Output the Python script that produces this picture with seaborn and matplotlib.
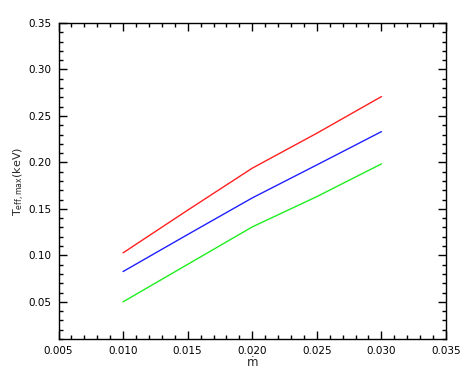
"""T_eff,max vs accretion rate, three model curves."""
import pandas as pd
import matplotlib
matplotlib.use("Agg")
import matplotlib.pyplot as plt
import seaborn as sns
from matplotlib.ticker import MultipleLocator

MDOT = [0.010, 0.015, 0.020, 0.025, 0.030]
T_RED = [0.1027, 0.1486, 0.1938, 0.2314, 0.2708]
T_BLUE = [0.0826, 0.1224, 0.1618, 0.1973, 0.2331]
T_GREEN = [0.0500, 0.0903, 0.1306, 0.1632, 0.1984]
SERIES = {"red": T_RED, "blue": T_BLUE, "green": T_GREEN}
COLORS = {"red": "#ff2020", "blue": "#2020ff", "green": "#20ee20"}


def build_frame():
    rows = []
    for name, vals in SERIES.items():
        for m, t in zip(MDOT, vals):
            rows.append({"mdot": m, "T": t, "model": name})
    return pd.DataFrame(rows)


def main():
    sns.set_style("ticks")
    plt.rcParams["font.family"] = ["DejaVu Sans"]
    plt.rcParams["mathtext.fontset"] = "dejavusans"
    df = build_frame()

    fig = plt.figure(figsize=(4.63, 3.82), dpi=100)
    ax = fig.add_axes([58.5 / 463, 1 - 339 / 382, (446 - 58.5) / 463, (339 - 23) / 382])
    sns.lineplot(data=df, x="mdot", y="T", hue="model", palette=COLORS,
                 legend=False, ax=ax, linewidth=1.0)

    ax.set_xlim(0.005, 0.035)
    ax.set_ylim(0.01, 0.35)
    ax.xaxis.set_major_locator(MultipleLocator(0.005))
    ax.xaxis.set_minor_locator(MultipleLocator(0.001))
    ax.yaxis.set_major_locator(MultipleLocator(0.05))
    ax.yaxis.set_minor_locator(MultipleLocator(0.01))
    ax.set_xticklabels([f"{v:.3f}" for v in ax.get_xticks()])
    ax.set_yticklabels([f"{v:.2f}" for v in ax.get_yticks()])
    ax.tick_params(which="both", direction="in", top=True, right=True,
                   labelsize=7.5, width=1, colors="black")
    ax.tick_params(which="major", length=6, pad=5)
    ax.tick_params(which="minor", length=3)
    for s in ax.spines.values():
        s.set_linewidth(1)
        s.set_color("black")

    ax.set_xlabel("\u1e41", fontsize=8.5, labelpad=0)
    ax.set_ylabel(r"T$_{\rm eff,max}$(keV)", fontsize=8, labelpad=1)
    ax.grid(False)
    fig.savefig("out.png", dpi=100)
    plt.close(fig)


if __name__ == "__main__":
    main()
